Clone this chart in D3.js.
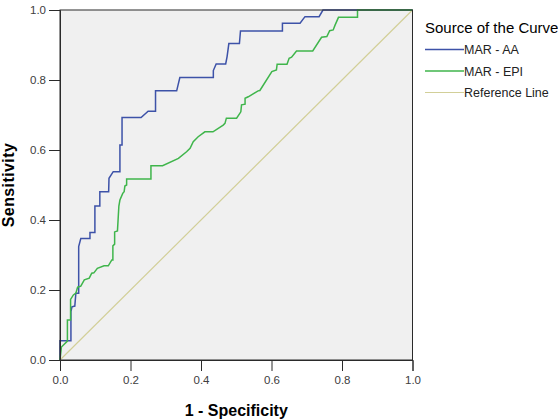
<!DOCTYPE html>
<html>
<head>
<meta charset="UTF-8">
<title>ROC Curve</title>
<script src="https://cdn.jsdelivr.net/npm/d3@7"></script>
<style>
    body { margin: 0; background: #fff; }
    svg text { font-family: "Liberation Sans", Arial, sans-serif; }
</style>
</head>
<body>
<div id="chart"></div>
<script>
    // ROC points: [1 - specificity, sensitivity]
    const marAA = [
        [0,0],[0,0.055],[0.031,0.055],[0.031,0.138],[0.034,0.152],[0.042,0.154],[0.045,0.191],
        [0.053,0.191],[0.053,0.324],[0.059,0.347],[0.085,0.347],[0.085,0.364],[0.099,0.364],
        [0.099,0.44],[0.113,0.44],[0.113,0.481],[0.138,0.481],[0.139,0.519],[0.151,0.538],
        [0.170,0.538],[0.170,0.614],[0.176,0.614],[0.176,0.693],[0.230,0.693],[0.250,0.711],
        [0.271,0.711],[0.271,0.769],[0.331,0.769],[0.335,0.786],[0.340,0.807],[0.435,0.807],
        [0.435,0.827],[0.443,0.846],[0.470,0.846],[0.474,0.867],[0.479,0.904],[0.509,0.904],
        [0.512,0.94],[0.631,0.94],[0.631,0.962],[0.681,0.962],[0.695,0.981],[0.735,0.981],
        [0.746,1],[1,1]
    ];
    const marEPI = [
        [0,0],[0.004,0.037],[0.021,0.054],[0.021,0.114],[0.030,0.114],[0.030,0.173],[0.038,0.186],
        [0.045,0.191],[0.050,0.208],[0.059,0.211],[0.069,0.229],[0.083,0.234],[0.090,0.248],
        [0.096,0.249],[0.106,0.262],[0.125,0.269],[0.137,0.269],[0.147,0.286],[0.150,0.286],
        [0.150,0.326],[0.155,0.331],[0.155,0.366],[0.163,0.369],[0.167,0.44],[0.170,0.457],
        [0.178,0.476],[0.182,0.481],[0.184,0.497],[0.189,0.5],[0.189,0.517],[0.258,0.517],
        [0.258,0.555],[0.291,0.555],[0.336,0.576],[0.359,0.595],[0.369,0.605],[0.378,0.624],
        [0.392,0.638],[0.411,0.652],[0.434,0.652],[0.463,0.671],[0.468,0.676],[0.472,0.691],
        [0.501,0.691],[0.513,0.709],[0.515,0.729],[0.525,0.731],[0.525,0.748],[0.534,0.752],
        [0.562,0.769],[0.567,0.770],[0.601,0.824],[0.614,0.829],[0.616,0.845],[0.644,0.845],
        [0.650,0.862],[0.657,0.865],[0.671,0.883],[0.717,0.883],[0.742,0.922],[0.757,0.924],
        [0.765,0.941],[0.775,0.943],[0.780,0.956],[0.790,0.979],[0.844,0.979],[0.844,1],[1,1]
    ];
    const referenceLine = [[0,0],[1,1]];

    const tickValues = [0, 0.2, 0.4, 0.6, 0.8, 1.0];
    const seriesNames = ["MAR - AA", "MAR - EPI", "Reference Line"];
    const seriesColors = ["#3d52a8", "#3fb54b", "#d2cf98"];

    const width = 558, height = 420;
    const plot = {left: 60, top: 10, right: 412.5, bottom: 360};

    const svg = d3.select("#chart").append("svg")
        .attr("width", width)
        .attr("height", height);

    const x = d3.scaleLinear().domain([0, 1]).range([plot.left, plot.right]);
    const y = d3.scaleLinear().domain([0, 1]).range([plot.bottom, plot.top]);

    // plot background
    svg.append("rect")
        .attr("x", plot.left).attr("y", plot.top)
        .attr("width", plot.right - plot.left).attr("height", plot.bottom - plot.top)
        .attr("fill", "#f0f0f0");

    const line = d3.line().x(d => x(d[0])).y(d => y(d[1]));

    // reference first, then AA, then EPI on top
    [[referenceLine, 2, 1.2], [marAA, 0, 1.5], [marEPI, 1, 1.5]].forEach(([data, i, w]) => {
        svg.append("path")
            .datum(data)
            .attr("d", line)
            .attr("fill", "none")
            .attr("stroke", seriesColors[i])
            .attr("stroke-width", w);
    });

    // frame
    svg.append("rect")
        .attr("x", plot.left).attr("y", plot.top)
        .attr("width", plot.right - plot.left).attr("height", plot.bottom - plot.top)
        .attr("fill", "none")
        .attr("stroke", "#2a2a2a")
        .attr("stroke-width", 1);

    const fmt = d3.format(".1f");

    const xAxis = svg.append("g")
        .attr("transform", `translate(0,${plot.bottom})`)
        .call(d3.axisBottom(x).tickValues(tickValues).tickFormat(fmt).tickSize(11).tickPadding(5));
    const yAxis = svg.append("g")
        .attr("transform", `translate(${plot.left},0)`)
        .call(d3.axisLeft(y).tickValues(tickValues).tickFormat(fmt).tickSize(11).tickPadding(3));

    [xAxis, yAxis].forEach(g => {
        g.select(".domain").attr("stroke", "#2a2a2a");
        g.selectAll(".tick line").attr("stroke", "#2a2a2a");
        g.selectAll(".tick text")
            .attr("fill", "#404040")
            .style("font-size", "11.5px")
            .style("font-family", "'Liberation Sans', Arial, sans-serif");
    });

    // axis titles
    svg.append("text")
        .attr("x", (plot.left + plot.right) / 2)
        .attr("y", 416)
        .attr("text-anchor", "middle")
        .style("font-size", "16px")
        .style("font-weight", "bold")
        .attr("fill", "#000")
        .text("1 - Specificity");

    svg.append("text")
        .attr("transform", `translate(14,${(plot.top + plot.bottom) / 2}) rotate(-90)`)
        .attr("text-anchor", "middle")
        .style("font-size", "16px")
        .style("font-weight", "bold")
        .style("letter-spacing", "0.4px")
        .attr("fill", "#000")
        .text("Sensitivity");

    // legend
    const legend = svg.append("g").attr("transform", "translate(425,0)");
    legend.append("text")
        .attr("x", 0).attr("y", 33)
        .style("font-size", "15px")
        .attr("fill", "#000")
        .text("Source of the Curve");

    seriesNames.forEach((name, i) => {
        const ly = 49.5 + i * 21.5;
        legend.append("line")
            .attr("x1", 0).attr("x2", 39)
            .attr("y1", ly).attr("y2", ly)
            .attr("stroke", seriesColors[i])
            .attr("stroke-width", i === 2 ? 1.2 : 1.5);
        legend.append("text")
            .attr("x", 39).attr("y", ly + 4.5)
            .style("font-size", "12.5px")
            .attr("fill", "#222")
            .text(name);
    });
</script>
</body>
</html>
